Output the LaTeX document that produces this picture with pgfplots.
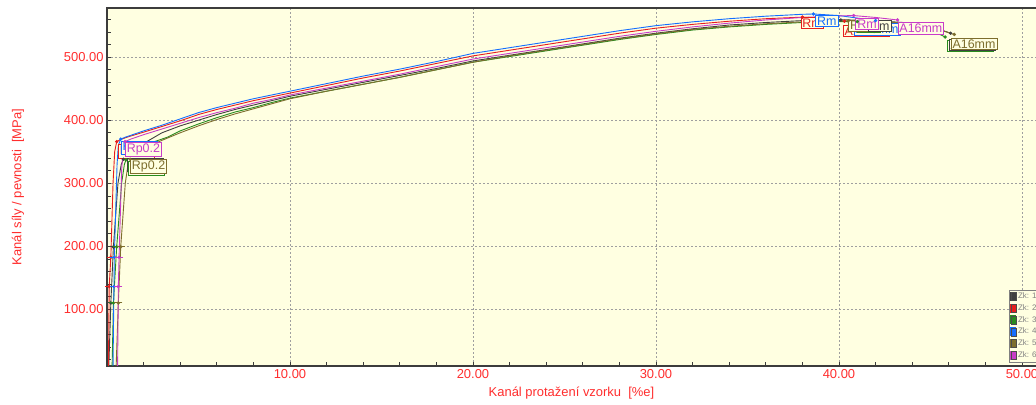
\documentclass[border=0pt]{standalone}
\usepackage{fontspec}
\setmainfont{Liberation Sans}
\usepackage{pgfplots}
\pgfplotsset{compat=1.18}
\definecolor{bgy}{RGB}{255,255,225}
\definecolor{lab}{RGB}{255,45,45}
\definecolor{c1}{RGB}{64,64,64}
\definecolor{c2}{RGB}{230,30,30}
\definecolor{c3}{RGB}{40,140,30}
\definecolor{c4}{RGB}{20,110,255}
\definecolor{c5}{RGB}{125,110,45}
\definecolor{c6}{RGB}{200,60,200}
\definecolor{axc}{RGB}{60,60,60}
\tikzset{lbl/.style={draw=#1, text=#1, fill=bgy, font=\fontsize{12.5}{14}\selectfont, inner xsep=1.5bp, inner ysep=1.2bp, anchor=west, line width=0.8bp}}
\begin{document}
\begin{tikzpicture}
\useasboundingbox (-107bp,-39bp) rectangle (929bp,366bp);
\begin{axis}[
  at={(0,0)}, anchor=south west, scale only axis,
  width=932bp, height=358bp,
  xmin=0, xmax=50.93, ymin=10, ymax=578,
  axis background/.style={fill=bgy},
  axis line style={axc, line width=1.1bp},
  xtick={10,20,30,40,50}, ytick={100,200,300,400,500},
  minor xtick={2,4,...,50}, minor ytick={20,40,...,560},
  tick align=inside, tick pos=left,
  major tick length=0bp, minor tick length=4bp,
  tick style={axc, line width=0.6bp},
  grid=major, major grid style={gray!75, dash pattern=on 2bp off 2bp, line width=0.7bp},
  ticklabel style={font=\fontsize{13}{15}\selectfont, text=lab},
  /pgf/number format/fixed, /pgf/number format/fixed zerofill,
  /pgf/number format/precision=2, /pgf/number format/assume math mode=true,
  legend style={at={(rel axis cs:1,0)}, anchor=south west, xshift=-30bp, yshift=4bp,
    fill=bgy, draw=gray, text=gray, font=\fontsize{8}{9}\selectfont, inner sep=1bp,
    row sep=0.5bp, /tikz/every even column/.append style={column sep=1bp}},
  legend cell align=left,
  legend image code/.code={\fill[#1] (0bp,-4bp) rectangle (5bp,4bp); \draw[black!70, line width=0.3bp] (0bp,-4bp) rectangle (5bp,4bp);},
]
% Zk 1 dark gray
\addplot[c1, line width=0.9bp, mark=none] coordinates {(0.1,10) (0.21,110) (0.35,199) (0.6,300) (0.78,330) (0.9,338) (1.5,355) (2.35,369) (3,380) (4,391) (5,400) (6,409) (7,417) (8,424) (9,431) (10,438) (12,449) (14,460) (16,471) (18,482) (20,494) (22,503) (24,512) (26,521) (28,530) (30,538) (32,545) (34,551) (36,555) (38,558) (40,559.5) (42,558) (43.5,555) (45,549) (46.1,538)};
\addlegendentry{Zk: 1}
% Zk 2 red
\addplot[c2, line width=0.9bp, mark=none] coordinates {(0.08,10) (0.12,136) (0.21,182.5) (0.33,300) (0.42,350) (0.53,366) (0.8,370) (1.2,374) (2,381) (3,390) (4,399) (5,409) (6,417) (7,424) (8,431) (9,437) (10,443) (12,455) (14,467) (16,478) (18,490) (20,502) (22,511) (24,520) (26,529) (28,538) (30,546) (32,552) (34,557) (36,561) (38,563.5) (39,562) (40.3,557)};
\addlegendentry{Zk: 2}
% Zk 3 green
\addplot[c3, line width=0.9bp, mark=none] coordinates {(0.28,10) (0.35,110) (0.53,199) (0.8,300) (0.95,330) (1.04,337) (1.5,350) (2,360) (3.3,373) (4,383) (5,394) (6,404) (7,413) (8,420) (9,428) (10,435) (12,446) (14,457) (16,468) (18,480) (20,492) (22,501) (24,510) (26,519) (28,528) (30,536) (32,543) (34,548) (36,552) (38,555) (40,556.5) (42,556) (43.5,552) (44.8,546) (45.8,532)};
\addlegendentry{Zk: 3}
% Zk 4 blue
\addplot[c4, line width=0.9bp, mark=none] coordinates {(0.33,10) (0.38,136) (0.40,182.5) (0.55,330) (0.62,360) (0.75,370) (1,373) (1.5,378) (2,383) (3,392) (4,402) (5,412) (6,420) (7,427) (8,434) (9,440) (10,446) (12,458) (14,470) (16,481) (18,493) (20,506) (22,515) (24,524) (26,533) (28,542) (30,550) (32,556) (34,561) (36,565) (38,568) (38.6,568.5) (40,566) (41,562) (42,558)};
\addlegendentry{Zk: 4}
% Zk 5 olive
\addplot[c5, line width=0.9bp, mark=none] coordinates {(0.5,10) (0.62,110) (0.75,199) (1.0,300) (1.15,330) (1.26,338) (2,355) (3,368) (4,380) (5,391) (6,401) (7,410) (8,418) (9,426) (10,434) (12,446) (14,457) (16,468) (18,480) (20,492) (22,502) (24,511) (26,520) (28,529) (30,537) (32,544) (34,549) (36,553) (38,556) (40,557.5) (42,557) (43.5,554) (45,548) (46.3,536)};
\addlegendentry{Zk: 5}
% Zk 6 magenta
\addplot[c6, line width=0.9bp, mark=none] coordinates {(0.58,10) (0.62,136) (0.66,182.5) (0.80,320) (0.88,355) (0.98,366) (1.3,370) (2,377) (3,386) (4,395) (5,404) (6,412) (7,419) (8,427) (9,433) (10,440) (12,451) (14,462) (16,473) (18,485) (20,497) (22,506) (24,515) (26,524) (28,533) (30,541) (32,548) (34,554) (36,559) (38,563) (40,565.5) (40.8,566) (42,563) (43.2,559)};
\addlegendentry{Zk: 6}
% markers
\addplot[forget plot, only marks, c1, mark=*, mark size=1.5bp] coordinates {(0.21,110) (0.35,199) (0.9,338) (40.1,559) (46.1,538)};
\addplot[forget plot, only marks, c1, mark=-, mark size=4bp, mark options={line width=1bp}] coordinates {(0.21,110) (0.35,199)};
\addplot[forget plot, only marks, c2, mark=*, mark size=1.5bp] coordinates {(0.12,136) (0.21,182.5) (0.53,366) (38.0,563.5) (40.3,557)};
\addplot[forget plot, only marks, c2, mark=-, mark size=4bp, mark options={line width=1bp}] coordinates {(0.12,136) (0.21,182.5)};
\addplot[forget plot, only marks, c3, mark=*, mark size=1.5bp] coordinates {(0.35,110) (0.53,199) (1.04,337) (41.0,556.5) (45.8,532)};
\addplot[forget plot, only marks, c3, mark=-, mark size=4bp, mark options={line width=1bp}] coordinates {(0.35,110) (0.53,199)};
\addplot[forget plot, only marks, c4, mark=*, mark size=1.5bp] coordinates {(0.38,136) (0.40,182.5) (0.75,370) (38.6,568.5) (42,558)};
\addplot[forget plot, only marks, c4, mark=-, mark size=4bp, mark options={line width=1bp}] coordinates {(0.38,136) (0.40,182.5)};
\addplot[forget plot, only marks, c5, mark=*, mark size=1.5bp] coordinates {(0.62,110) (0.75,199) (1.26,338) (40.5,557.5) (46.3,536)};
\addplot[forget plot, only marks, c5, mark=-, mark size=4bp, mark options={line width=1bp}] coordinates {(0.62,110) (0.75,199)};
\addplot[forget plot, only marks, c6, mark=*, mark size=1.5bp] coordinates {(0.62,136) (0.66,182.5) (0.98,366) (40.8,566) (43.2,559)};
\addplot[forget plot, only marks, c6, mark=-, mark size=4bp, mark options={line width=1bp}] coordinates {(0.62,136) (0.66,182.5)};
% labels
\node[lbl=c2] at (axis cs:0.60,350.5) {Rp0.2};
\node[lbl=c4] at (axis cs:0.75,356) {Rp0.2};
\node[lbl=c6] at (axis cs:0.98,353.6) {Rp0.2};
\node[lbl=c1] at (axis cs:1.10,329) {Rp0.2};
\node[lbl=c3] at (axis cs:1.15,323.5) {Rp0.2};
\node[lbl=c5] at (axis cs:1.26,326.6) {Rp0.2};
\node[lbl=c2] at (axis cs:37.9,553.6) {Rm};
\node[lbl=c2] at (axis cs:40.2,541.7) {A16mm};
\node[lbl=c4] at (axis cs:40.8,544) {A16mm};
\node[lbl=c4] at (axis cs:38.7,557.6) {Rm};
\node[lbl=c3] at (axis cs:41.0,548) {Rm};
\node[lbl=c5] at (axis cs:40.5,550) {Rm};
\node[lbl=c1] at (axis cs:41.6,549) {Rm};
\node[lbl=c6] at (axis cs:40.9,553) {Rm};
\node[lbl=c6] at (axis cs:43.2,545.7) {A16mm};
\node[lbl=c3] at (axis cs:45.9,518) {A16mm};
\node[lbl=c1] at (axis cs:46.0,519.5) {A16mm};
\node[lbl=c5] at (axis cs:46.1,521) {A16mm};
\end{axis}
\node[rotate=90, text=lab, font=\fontsize{13}{15}\selectfont] at (-89bp,179bp) {Kanál síly / pevnosti\ \ [MPa]};
\node[text=lab, font=\fontsize{13}{15}\selectfont] at (464.5bp,-27bp) {Kanál protažení vzorku\ \ [\%e]};
\end{tikzpicture}
\end{document}
